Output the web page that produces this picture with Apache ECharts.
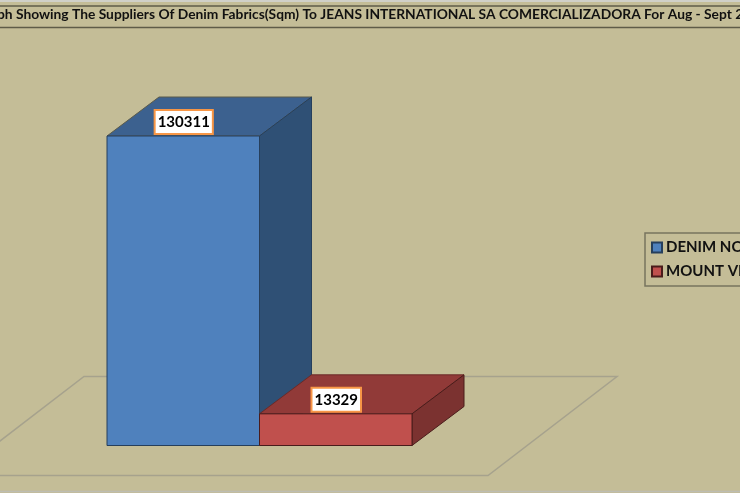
<!DOCTYPE html>
<html><head><meta charset="utf-8">
<style>html,body{margin:0;padding:0;background:#C4BD97}#c{width:740px;height:493px}</style>
<script src="https://cdn.jsdelivr.net/npm/echarts@6/dist/echarts.min.js"></script>
</head><body><div id="c"></div>
<script>
const titleText = 'Graph Showing The Suppliers Of Denim Fabrics(Sqm) To JEANS INTERNATIONAL SA COMERCIALIZADORA For Aug - Sept 2013';
const suppliers = ['DENIM NOVA', 'MOUNT VIEW'];
const quantities = [130311, 13329];
const frontColors = ['#4F81BD', '#C0504D'];
const topColors = ['#3C618F', '#913A38'];
const sideColors = ['#2F5075', '#7B3230'];
const edgeColors = ['#263F5C', '#4A1C1B'];
const FONT = 'Lato, Carlito, sans-serif';
const DX = 52, DY = -39;

function bar3d(i) {
  return function (params, api) {
    const base = api.coord([api.value(0), 0]);
    const top = api.coord([api.value(0), api.value(1)]);
    const w = api.size([1, 0])[0];
    const l = base[0] - w / 2, r = base[0] + w / 2, b = base[1], t = top[1];
    const edge = { stroke: edgeColors[i], lineWidth: 1 };
    return { type: 'group', children: [
      { type: 'polygon', shape: { points: [[l, t], [r, t], [r + DX, t + DY], [l + DX, t + DY]] },
        style: Object.assign({ fill: topColors[i] }, edge, { stroke: i ? '#6A2A28' : '#5A5A4A' }) },
      { type: 'polygon', shape: { points: [[r, t], [r + DX, t + DY], [r + DX, b + DY], [r, b]] },
        style: Object.assign({ fill: sideColors[i] }, edge) },
      { type: 'rect', shape: { x: l, y: t, width: r - l, height: b - t },
        style: Object.assign({ fill: frontColors[i] }, edge) },
      { type: 'text', x: base[0] + 0.5, y: t - 14, z2: 20,
        style: { text: String(api.value(1)), align: 'center', verticalAlign: 'middle',
          font: 'bold 15px ' + FONT, fill: '#000', backgroundColor: '#fff',
          borderColor: '#F79646', borderWidth: 2, padding: [4, 2, 3, 2] } }
    ]};
  };
}

const chart = echarts.init(document.getElementById('c'), null, { renderer: 'canvas' });
chart.setOption({
  animation: false,
  backgroundColor: '#C4BD97',
  title: { text: titleText, left: -25, top: 8, padding: 0,
    textStyle: { fontFamily: FONT, fontWeight: 'bold', fontSize: 13.8, color: '#111' } },
  grid: { left: 107, width: 305, top: 113, bottom: 47.5 },
  xAxis: { type: 'category', data: suppliers, show: false },
  yAxis: { type: 'value', min: 0, max: 140000, show: false },
  legend: { orient: 'vertical', left: 645, top: 233, icon: 'rect', itemWidth: 10, itemHeight: 10, itemGap: 9,
    padding: [7, 40, 7, 6], backgroundColor: '#C4BD97', borderColor: '#77745F', borderWidth: 1.5, borderRadius: 0,
    selectedMode: false, align: 'left', data: suppliers,
    textStyle: { fontFamily: FONT, fontWeight: 'bold', fontSize: 15, color: '#111', padding: [0, 0, 0, -1] } },
  graphic: [
    { type: 'line', z: 0, shape: { x1: 0, y1: 1, x2: 740, y2: 1 }, style: { stroke: '#D0D0C8', lineWidth: 2 } },
    { type: 'line', z: 0, shape: { x1: 0, y1: 6, x2: 740, y2: 6 }, style: { stroke: '#5F5C48', lineWidth: 1.5 } },
    { type: 'line', z: 0, shape: { x1: 0, y1: 27.5, x2: 740, y2: 27.5 }, style: { stroke: '#5F5C48', lineWidth: 1.5 } },
    { type: 'line', z: 0, shape: { x1: 0, y1: 491.5, x2: 740, y2: 491.5 }, style: { stroke: '#BDBDB2', lineWidth: 1.5 } },
    { type: 'polygon', z: 0, shape: { points: [[84, 376.5], [617, 376.5], [488, 475.5], [-45, 475.5]] },
      style: { fill: 'transparent', stroke: '#A6A28D', lineWidth: 1.5 } }
  ],
  series: suppliers.map((name, i) => ({
    type: 'custom', name, z: 2 + i, clip: false,
    itemStyle: { color: frontColors[i], borderColor: edgeColors[i], borderWidth: 1 },
    renderItem: bar3d(i),
    encode: { x: 0, y: 1 },
    data: [[i, quantities[i]]]
  }))
});
</script></body></html>
